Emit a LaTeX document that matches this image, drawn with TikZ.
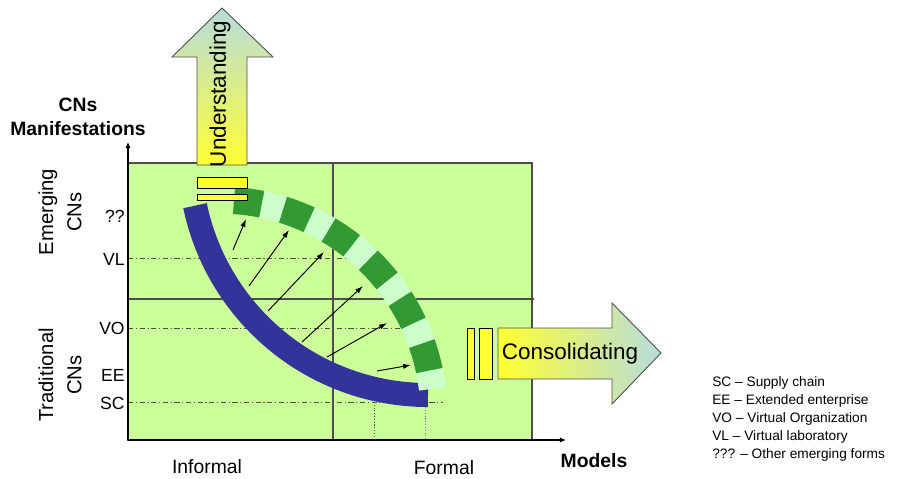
\documentclass[tikz,border=0pt]{standalone}
\usepackage{fontspec}
\setmainfont{Liberation Sans}
\usetikzlibrary{arrows.meta}
\definecolor{panelgreen}{HTML}{CCFF99}
\definecolor{bandblue}{HTML}{333399}
\definecolor{darkgreen}{HTML}{339933}
\definecolor{palegreen}{HTML}{CCFFCC}
\definecolor{baryellow}{HTML}{FFFF33}
\definecolor{arrowblue}{HTML}{B6DCDC}
\definecolor{edgegray}{HTML}{4D4D4D}
\tikzset{
  panel/.style={draw=edgegray, line width=0.6pt, fill=panelgreen},
  divider/.style={draw=edgegray, line width=0.6pt},
  axis/.style={draw=black, line width=0.6pt, -{Latex[length=3.5pt,width=3pt]}},
  guide/.style={draw=edgegray, line width=0.5pt, dash pattern=on 3pt off 1.5pt on 0.6pt off 1.5pt},
  dotguide/.style={draw=edgegray, line width=0.5pt, dash pattern=on 0.6pt off 1pt},
  pointer/.style={draw=black, line width=0.55pt, -{Latex[length=4.5pt,width=3pt]}},
  yellowbar/.style={draw=black, line width=0.5pt, fill=baryellow},
  bigarrow/.style={draw=edgegray, line width=0.5pt},
  bigtext/.style={font=\fontsize{12.8}{15}\selectfont},
  axislabel/.style={font=\fontsize{11}{13}\selectfont},
  ticklabel/.style={font=\fontsize{10}{12}\selectfont, anchor=east, inner sep=0pt},
  sidelabel/.style={font=\fontsize{11.5}{16}\selectfont, rotate=90, align=center},
  boldlabel/.style={font=\bfseries\fontsize{11}{13.5}\selectfont, align=center},
  legend/.style={font=\fontsize{7.8}{10.3}\selectfont, align=left, anchor=north west, inner sep=0pt}
}
\begin{document}
\begin{tikzpicture}[x=0.02cm, y=-0.02cm]
\useasboundingbox (0,0) rectangle (907,478);

% panel and dividers
\draw[panel] (128,163) rectangle (532,440);
\draw[divider] (333,163) -- (333,440);
\draw[divider] (128,299) -- (534,299);

% guides
\draw[guide] (128,258) -- (380,258);
\draw[guide] (128,328) -- (427,328);
\draw[guide] (128,402) -- (443,402);
\draw[dotguide] (374,402) -- (374,440);
\draw[dotguide, draw=gray] (425,396) -- (425,440);

% axes
\coordinate (origin) at (128,440);
\coordinate (ytip) at (128,142);
\coordinate (xtip) at (566,440);
\draw[axis] (origin) -- (ytip);
\draw[axis] (origin) -- (xtip);

% blue arc (informal)
\draw[draw=bandblue, line width=0.48cm] (428,157) ++(168.2:238) arc[start angle=168.2, end angle=90, radius=238];

% green dashed arc (formal)
\draw[draw=palegreen, line width=0.54cm] (219,415) ++(-86:215) arc[start angle=-86, end angle=-7, radius=215];
\draw[draw=darkgreen, line width=0.54cm, dash pattern=on 0.56cm off 0.44cm] (219,415) ++(-86:215) arc[start angle=-86, end angle=-7, radius=215];

% pointers from informal to formal
\coordinate (a1) at (233,250); \coordinate (b1) at (246,219);
\coordinate (a2) at (249,286); \coordinate (b2) at (289,230);
\coordinate (a3) at (268,311); \coordinate (b3) at (324,252);
\coordinate (a4) at (302,342); \coordinate (b4) at (363,286);
\coordinate (a5) at (327,357); \coordinate (b5) at (387,323);
\coordinate (a6) at (377,371); \coordinate (b6) at (411,365);
\foreach \i in {1,...,6} {\draw[pointer] (a\i) -- (b\i);}

% understanding arrow
\shade[bigarrow, bottom color=baryellow, top color=arrowblue]
  (197,165) -- (197,57) -- (172,57) -- (222,8) -- (273,57) -- (247,57) -- (247,165) -- cycle;
\node[bigtext, rotate=90] (understanding) at (220,94) {Understanding};
\draw[yellowbar] (197,177) rectangle (247,188);
\draw[yellowbar] (197,194) rectangle (247,200);

% consolidating arrow
\draw[yellowbar] (467,328) rectangle (474,379);
\draw[yellowbar] (479,328) rectangle (492,379);
\shade[bigarrow, left color=baryellow, right color=arrowblue]
  (498,328) -- (612,328) -- (612,303) -- (661,353) -- (612,404) -- (612,379) -- (498,379) -- cycle;
\node[bigtext] (consolidating) at (570,354) {Consolidating};

% tick labels
\node[ticklabel] (qq) at (125,216) {??};
\node[ticklabel] (vl) at (125,259) {VL};
\node[ticklabel] (vo) at (125,328) {VO};
\node[ticklabel] (ee) at (125,375) {EE};
\node[ticklabel] (sc) at (125,403) {SC};

% side labels
\node[sidelabel] (emerging) at (60,212) {Emerging\\CNs};
\node[sidelabel] (traditional) at (60,375) {Traditional\\CNs};

% axis titles
\node[boldlabel] (ytitle) at (78,117) {CNs\\Manifestations};
\node[boldlabel] (xtitle) at (594,461) {Models};
\node[axislabel] (informal) at (207,467) {Informal};
\node[axislabel] (formal) at (444,468) {Formal};

% legend
\node[legend] (legendbox) at (712,376) {SC -- Supply chain\\EE -- Extended enterprise\\VO -- Virtual Organization\\VL -- Virtual laboratory\\??? -- Other emerging forms};
\end{tikzpicture}
\end{document}
